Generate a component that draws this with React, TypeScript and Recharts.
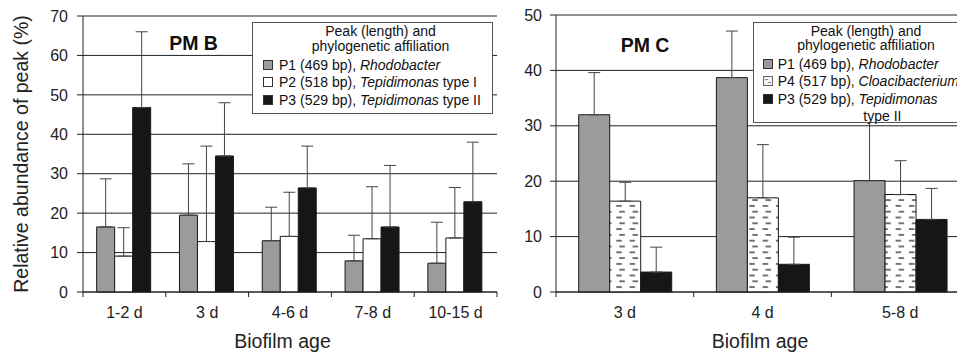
import React from "react";
import { BarChart, Bar, XAxis, YAxis, CartesianGrid, ErrorBar, Legend } from "recharts";

const FONT = '"Liberation Sans", Arial, Helvetica, sans-serif';
const INK = "#222";

// PM B
const agesB = ["1-2 d", "3 d", "4-6 d", "7-8 d", "10-15 d"];
const p1B = [16.5, 19.5, 13.0, 7.9, 7.3];
const p1TopB = [28.7, 32.5, 21.5, 14.4, 17.7];
const p2B = [9.1, 12.8, 14.1, 13.5, 13.7];
const p2TopB = [16.3, 37.0, 25.3, 26.7, 26.5];
const p3B = [46.8, 34.5, 26.4, 16.5, 22.9];
const p3TopB = [66.0, 48.0, 37.0, 32.1, 38.0];
const yTicksB = [0, 10, 20, 30, 40, 50, 60, 70];

// PM C
const agesC = ["3 d", "4 d", "5-8 d"];
const p1C = [32.0, 38.7, 20.1];
const p1TopC = [39.6, 47.1, 33.0];
const p4C = [16.4, 17.0, 17.6];
const p4TopC = [19.8, 26.6, 23.7];
const p3C = [3.6, 5.0, 13.1];
const p3TopC = [8.1, 9.9, 18.7];
const yTicksC = [0, 10, 20, 30, 40, 50];

const legendTitle = ["Peak (length) and", "phylogenetic affiliation"];

const GRAY = "#9b9b9b";
const BLACK = "#161616";
const WHITE = "#ffffff";
const DASHED = "url(#dashFill)";

const seriesB = [
  { key: "p1", values: p1B, tops: p1TopB, fill: GRAY, swatch: GRAY, label: ["P1 (469 bp), ", "Rhodobacter", ""] },
  { key: "p2", values: p2B, tops: p2TopB, fill: WHITE, swatch: WHITE, label: ["P2 (518 bp), ", "Tepidimonas", " type I"] },
  { key: "p3", values: p3B, tops: p3TopB, fill: BLACK, swatch: BLACK, label: ["P3 (529 bp), ", "Tepidimonas", " type II"] },
];

const seriesC = [
  { key: "p1", values: p1C, tops: p1TopC, fill: GRAY, swatch: GRAY, label: ["P1 (469 bp), ", "Rhodobacter", ""] },
  { key: "p4", values: p4C, tops: p4TopC, fill: DASHED, swatch: "pattern", label: ["P4 (517 bp), ", "Cloacibacterium", ""] },
  { key: "p3", values: p3C, tops: p3TopC, fill: BLACK, swatch: BLACK, label: ["P3 (529 bp), ", "Tepidimonas", ""] },
];

function Swatch({ kind }: { kind: string }) {
  if (kind === "pattern") {
    return (
      <svg width={10} height={10} style={{ display: "block" }}>
        <rect x={0.5} y={0.5} width={9} height={9} fill="#f3f3f3" stroke="#666" />
        <rect x={2} y={3} width={3} height={1} fill="#888" />
        <rect x={5} y={6} width={3} height={1} fill="#888" />
      </svg>
    );
  }
  return <div style={{ width: 10, height: 10, boxSizing: "border-box", border: "1px solid #333", background: kind }} />;
}

function LegendBox({ box, series, extra }: any) {
  const lh = 16;
  const line = (cy: number, more: any) => ({
    position: "absolute" as const,
    top: cy - lh / 2,
    lineHeight: `${lh}px`,
    whiteSpace: "nowrap" as const,
    ...more,
  });
  return (
    <div
      style={{
        position: "relative",
        width: box.width,
        height: box.height,
        boxSizing: "border-box",
        border: "1px solid #555",
        background: "#fff",
        fontFamily: FONT,
        fontSize: 14,
        color: "#111",
      }}
    >
      {legendTitle.map((t, i) => (
        <div key={t} style={line(box.titleRows[i], { left: box.titleCenter - 150, width: 300, textAlign: "center" })}>
          {t}
        </div>
      ))}
      {series.map((s: any, i: number) => (
        <div key={s.key} style={line(box.itemTop + i * box.itemStep, { left: box.swatchLeft, display: "flex", alignItems: "center" })}>
          <Swatch kind={s.swatch} />
          <span style={{ marginLeft: box.textGap }}>
            {s.label[0]}
            <i>{s.label[1]}</i>
            {s.label[2]}
          </span>
        </div>
      ))}
      {extra && <div style={line(box.itemTop + series.length * box.itemStep, { left: box.extraLeft })}>{extra}</div>}
    </div>
  );
}

// category label plus short tick marks on the category boundaries
function AgeTick(props: any) {
  const { x, y, payload, index, halfBand, count } = props;
  return (
    <g>
      <line x1={x - halfBand} x2={x - halfBand} y1={y} y2={y + 5} stroke={INK} />
      {index === count - 1 && <line x1={x + halfBand} x2={x + halfBand} y1={y} y2={y + 5} stroke={INK} />}
      <text x={x} y={y + 25.5} textAnchor="middle" fontSize={16} fill={INK} fontFamily={FONT}>
        {payload.value}
      </text>
    </g>
  );
}

function Panel(p: any) {
  const { ages, series, yTicks, width, height, margin, yAxisWidth, tickMargin, showYLabel, title, titleX, titleY, box, extra, xLabelDx } = p;
  const n = ages.length;
  const data = ages.map((age: string, i: number) => {
    const row: any = { age };
    series.forEach((s: any) => {
      row[s.key] = s.values[i];
      row[s.key + "Err"] = [0, s.tops[i] - s.values[i]];
    });
    return row;
  });
  const plotWidth = width - margin.left - margin.right - yAxisWidth;
  const halfBand = plotWidth / n / 2;

  return (
    <div style={{ position: "relative", width, height }}>
      <BarChart width={width} height={height} data={data} margin={margin} barCategoryGap="16.5%" barGap={0}>
        <defs>
          <pattern id="dashFill" width={13.3} height={11.6} patternUnits="userSpaceOnUse">
            <rect width={13.3} height={11.6} fill="#fff" />
            <rect x={3} y={2} width={5.5} height={1.8} fill="#666" />
            <rect x={0} y={7.8} width={5.5} height={1.8} fill="#666" />
          </pattern>
        </defs>
        <CartesianGrid vertical={false} stroke={INK} />
        <XAxis
          dataKey="age"
          interval={0}
          tickLine={false}
          tickSize={0}
          tickMargin={0}
          axisLine={{ stroke: INK }}
          height={62}
          tick={(tp: any) => <AgeTick {...tp} halfBand={halfBand} count={n} />}
          label={(lp: any) => (
            <text
              x={lp.viewBox.x + lp.viewBox.width / 2 + xLabelDx}
              y={lp.viewBox.y + 56}
              textAnchor="middle"
              fontSize={19.5}
              fill={INK}
              fontFamily={FONT}
            >
              Biofilm age
            </text>
          )}
        />
        <YAxis
          domain={[0, yTicks[yTicks.length - 1]]}
          ticks={yTicks}
          interval={0}
          width={yAxisWidth}
          tickSize={6}
          tickMargin={tickMargin}
          tick={{ fontSize: 16, fill: INK, fontFamily: FONT }}
          tickLine={{ stroke: INK }}
          axisLine={{ stroke: INK }}
          label={
            showYLabel
              ? (lp: any) => {
                  const cx = lp.viewBox.x + 27.5;
                  const cy = lp.viewBox.y + lp.viewBox.height / 2;
                  return (
                    <text x={cx} y={cy} transform={`rotate(-90, ${cx}, ${cy})`} textAnchor="middle" fontSize={19.5} fill={INK} fontFamily={FONT}>
                      Relative abundance of peak (%)
                    </text>
                  );
                }
              : undefined
          }
        />
        {series.map((s: any) => (
          <Bar key={s.key} dataKey={s.key} fill={s.fill} stroke="#1a1a1a" strokeWidth={1} isAnimationActive={false}>
            <ErrorBar dataKey={s.key + "Err"} width={6} stroke="#444" strokeWidth={1} direction="y" isAnimationActive={false} />
          </Bar>
        ))}
        <Legend
          layout="vertical"
          align="center"
          verticalAlign="middle"
          wrapperStyle={{ left: box.left, top: box.top, width: box.width, height: box.height }}
          content={() => <LegendBox box={box} series={series} extra={extra} />}
        />
      </BarChart>
      <div
        style={{
          position: "absolute",
          left: titleX,
          top: titleY,
          transform: "translate(-50%, -50%)",
          fontWeight: "bold",
          fontSize: 19.5,
          fontFamily: FONT,
          color: "#111",
          whiteSpace: "nowrap",
        }}
      >
        {title}
      </div>
    </div>
  );
}

export default function App() {
  return (
    <div style={{ position: "fixed", left: 0, top: 0, width: 957, height: 354, overflow: "hidden", background: "#fff", fontFamily: FONT }}>
      <div style={{ position: "absolute", left: 0, top: 0 }}>
        <Panel
          ages={agesB}
          series={seriesB}
          yTicks={yTicksB}
          width={500}
          height={354}
          margin={{ top: 16, right: 3, bottom: 0, left: 0 }}
          yAxisWidth={83}
          tickMargin={9}
          showYLabel
          title="PM B"
          titleX={193.5}
          titleY={43}
          xLabelDx={-7.5}
          box={{ left: 252, top: 22, width: 241, height: 91.5, titleCenter: 127.5, titleRows: [8.4, 22.7], itemTop: 41.7, itemStep: 17.4, swatchLeft: 10, textGap: 6 }}
        />
      </div>
      <div style={{ position: "absolute", left: 470, top: 0 }}>
        <Panel
          ages={agesC}
          series={seriesC}
          yTicks={yTicksC}
          width={500}
          height={354}
          margin={{ top: 15, right: 1, bottom: 0, left: 0 }}
          yAxisWidth={86}
          tickMargin={8}
          showYLabel={false}
          title="PM C"
          titleX={175}
          titleY={45}
          xLabelDx={-2.5}
          extra="type II"
          box={{ left: 282.7, top: 21.7, width: 260, height: 101.6, titleCenter: 112.3, titleRows: [8, 22.3], itemTop: 41.3, itemStep: 17.3, swatchLeft: 9.3, textGap: 4.7, extraLeft: 109.6 }}
        />
      </div>
    </div>
  );
}
